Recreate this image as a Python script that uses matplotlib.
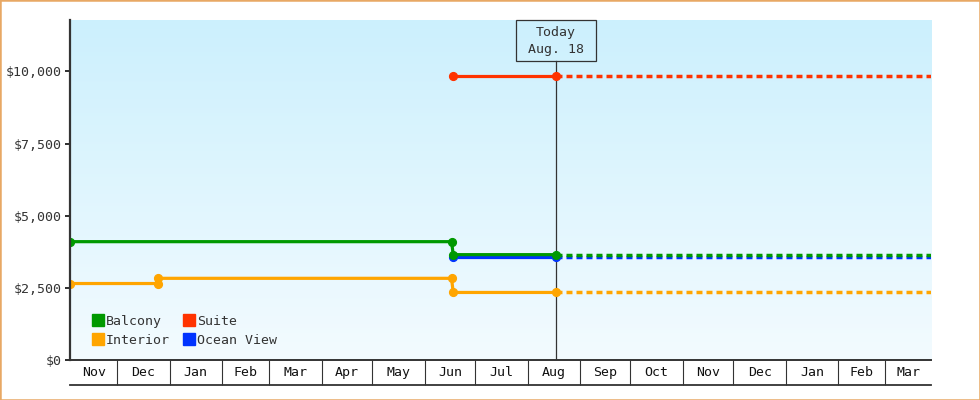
import matplotlib
matplotlib.use('Agg')
import matplotlib.pyplot as plt
import matplotlib.dates as mdates
import matplotlib.transforms as mtrans
from matplotlib.patches import Rectangle
from matplotlib.lines import Line2D
from matplotlib.colors import LinearSegmentedColormap
import numpy as np
import pandas as pd

plt.rcParams['font.family'] = ['DejaVu Sans Mono', 'DejaVu Sans']
plt.rcParams['lines.scale_dashes'] = False

# ---------------- data ----------------
x_start = '2017-11-03'
x_end = '2019-03-28'
today = '2018-08-18'
today_label = 'Today\nAug. 18'

balcony_dates = ['2017-11-03', '2018-06-17', '2018-06-18', '2018-08-18']
balcony_values = [4100, 4100, 3650, 3650]
interior_dates = ['2017-11-03', '2017-12-25', '2017-12-25', '2018-06-17', '2018-06-18', '2018-08-18']
interior_values = [2650, 2650, 2830, 2830, 2340, 2340]
suite_dates = ['2018-06-18', '2018-08-18']
suite_values = [9850, 9850]
ocean_dates = ['2018-06-18', '2018-08-18']
ocean_values = [3580, 3580]

series_names = ['Balcony', 'Interior', 'Suite', 'Ocean View']
series_colors = ['#009900', '#ffa500', '#ff3300', '#0033ff']

y_ticks = [0, 2500, 5000, 7500, 10000]
y_max = 11780

# ---------------- figure ----------------
W, H = 980, 400
fig = plt.figure(figsize=(W / 100, H / 100), dpi=100, facecolor='white')
L, R, T, B = 70, 931, 20, 360
ax = fig.add_axes([L / W, (H - B) / H, (R - L) / W, (B - T) / H])
ax.set_facecolor('none')

dark = '#333333'
fs = 9.5

# gradient background
cmap = LinearSegmentedColormap.from_list('bg', ['#ccf0fd', '#f3fbff'])
ax.imshow(np.linspace(0, 1, 256).reshape(-1, 1), cmap=cmap, aspect='auto',
          extent=[0, 1, 0, 1], transform=ax.transAxes, zorder=0)

d = lambda lst: mdates.date2num(pd.to_datetime(lst))
x0, x1, tnum = d([x_start])[0], d([x_end])[0], d([today])[0]

data = {
    'Balcony': (balcony_dates, balcony_values),
    'Interior': (interior_dates, interior_values),
    'Suite': (suite_dates, suite_values),
    'Ocean View': (ocean_dates, ocean_values),
}
colors = dict(zip(series_names, series_colors))

lw = 2.3
dash = (0, (4.3, 2.9))
for name in ['Ocean View', 'Interior', 'Suite', 'Balcony']:
    dates, vals = data[name]
    c = colors[name]
    xs = d(dates)
    ax.plot([xs[-1], x1], [vals[-1], vals[-1]], color=c, lw=2.5, ls=dash,
            dash_capstyle='butt', zorder=3)
    ax.plot(xs, vals, color=c, lw=lw, marker='o', ms=5.6, mec=c, mfc=c,
            solid_joinstyle='miter', zorder=4)

ax.set_xlim(x0, x1)
ax.set_ylim(0, y_max)

# spines
for s in ['top', 'right']:
    ax.spines[s].set_visible(False)
ax.spines['left'].set_color(dark)
ax.spines['left'].set_linewidth(1.6)
ax.spines['bottom'].set_color(dark)
ax.spines['bottom'].set_linewidth(1.4)
ax.spines['left'].set_zorder(5)
ax.spines['bottom'].set_zorder(5)

# y axis
ax.set_yticks(y_ticks)
ax.set_yticklabels(['${:,}'.format(v) for v in y_ticks])
ax.tick_params(axis='y', length=3.6, width=1.44, color=dark, labelsize=fs,
               labelcolor=dark, pad=2.2)

# x axis month bands
months = pd.date_range('2017-11-01', '2019-04-01', freq='MS')
inner = [m for m in months if x0 < mdates.date2num(m) < x1]
bounds = [x0] + [mdates.date2num(m) for m in inner] + [x1]
mids = [(a + b) / 2 for a, b in zip(bounds[:-1], bounds[1:])]
labels = [mdates.num2date(a + 0.5).strftime('%b') for a in bounds[:-1]]
ax.set_xticks(bounds[1:-1])
ax.set_xticklabels([])
ax.tick_params(axis='x', which='major', length=18, width=0.8, color=dark,
               direction='out')
ax.set_xticks(mids, minor=True)
ax.set_xticklabels(labels, minor=True)
ax.tick_params(axis='x', which='minor', length=0, pad=4.5, labelsize=fs,
               labelcolor='#111111')
band = -25 / (B - T)
ax.plot([0, 1], [band, band], transform=ax.transAxes, clip_on=False,
        color=dark, lw=1.3, zorder=5)

# today line and box
ax.plot([tnum, tnum], [0, (B - 60.5) / (B - T)],
        transform=mtrans.blended_transform_factory(ax.transData, ax.transAxes),
        color=dark, lw=0.9, zorder=3.5)
fig.canvas.draw()
tx = ax.transData.transform((tnum, 0))[0]
fig.add_artist(Rectangle(((tx - 40) / W, (H - 60.5) / H), 80 / W, 40.5 / H,
                         transform=fig.transFigure, fill=False,
                         edgecolor=dark, lw=0.9))
fig.text(tx / W, (H - 41) / H, today_label, ha='center', va='center',
         fontsize=fs, color=dark, linespacing=1.4)

# legend
handles = [Line2D([], [], ls='none', marker='s', ms=8, color=colors[n],
                  mec=colors[n]) for n in series_names]
ax.legend(handles, series_names, ncol=2, loc='lower left',
          bbox_to_anchor=(22 / (R - L), 13 / (B - T)), frameon=False,
          borderpad=0, borderaxespad=0, handlelength=0.85, handletextpad=0.2,
          columnspacing=1.0, labelspacing=0.45, fontsize=fs,
          labelcolor=dark)

# orange border
fig.add_artist(Rectangle((0, 0), 1, 1, transform=fig.transFigure, fill=False,
                         edgecolor='#e8a864', lw=1.8))

fig.savefig('out.png', dpi=100, facecolor='white')
